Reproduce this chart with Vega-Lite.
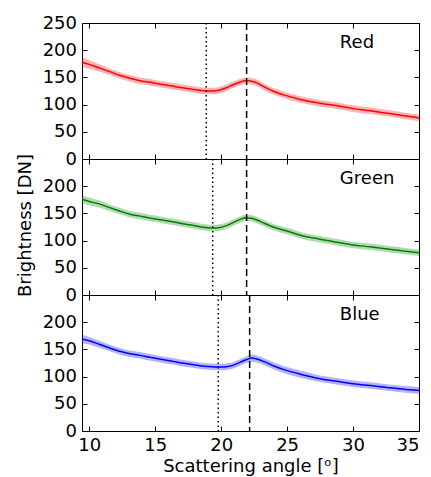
{
  "$schema": "https://vega.github.io/schema/vega-lite/v6.json",
  "autosize": {"type": "pad"},
  "padding": {"left": 15, "top": 13, "right": 10, "bottom": 3},
  "background": "white",
  "spacing": 0,
  "bounds": "flush",
  "config": {
    "font": "DejaVu Sans",
    "view": {"stroke": "black", "strokeWidth": 1},
    "axis": {
      "domain": false, "grid": false, "ticks": true, "tickSize": -5, "tickColor": "black", "tickWidth": 1,
      "labelFont": "DejaVu Sans", "labelFontSize": 18, "labelColor": "black", "labelPadding": 10.5,
      "titleFont": "DejaVu Sans", "titleFontSize": 18, "titleFontWeight": "normal", "titleColor": "black"
    }
  },
  "datasets": {
    "curves": [
      {"ch": "Red", "x": 9.45, "y": 178, "lo": 169, "hi": 187},
      {"ch": "Red", "x": 10, "y": 174, "lo": 166, "hi": 182},
      {"ch": "Red", "x": 10.8, "y": 167, "lo": 160.5, "hi": 173.5},
      {"ch": "Red", "x": 11.5, "y": 161, "lo": 155, "hi": 167},
      {"ch": "Red", "x": 12.3, "y": 154, "lo": 148, "hi": 160},
      {"ch": "Red", "x": 13, "y": 149, "lo": 143, "hi": 155},
      {"ch": "Red", "x": 13.85, "y": 144, "lo": 138, "hi": 150},
      {"ch": "Red", "x": 14.6, "y": 141, "lo": 135, "hi": 147},
      {"ch": "Red", "x": 15.4, "y": 137.5, "lo": 131.5, "hi": 143.5},
      {"ch": "Red", "x": 16.2, "y": 134.5, "lo": 128.5, "hi": 140.5},
      {"ch": "Red", "x": 16.9, "y": 131.5, "lo": 125.5, "hi": 137.5},
      {"ch": "Red", "x": 17.7, "y": 128.5, "lo": 122.5, "hi": 134.5},
      {"ch": "Red", "x": 18.4, "y": 126, "lo": 120, "hi": 132},
      {"ch": "Red", "x": 18.9, "y": 125, "lo": 119, "hi": 131},
      {"ch": "Red", "x": 19.4, "y": 125, "lo": 119, "hi": 131},
      {"ch": "Red", "x": 19.9, "y": 127, "lo": 121, "hi": 133},
      {"ch": "Red", "x": 20.4, "y": 131, "lo": 125, "hi": 137},
      {"ch": "Red", "x": 20.9, "y": 136.5, "lo": 130.5, "hi": 142.5},
      {"ch": "Red", "x": 21.4, "y": 141, "lo": 135, "hi": 147},
      {"ch": "Red", "x": 21.9, "y": 144.5, "lo": 138.5, "hi": 150.5},
      {"ch": "Red", "x": 22.3, "y": 143, "lo": 137, "hi": 149},
      {"ch": "Red", "x": 22.7, "y": 140, "lo": 134, "hi": 146},
      {"ch": "Red", "x": 23.3, "y": 132, "lo": 126, "hi": 138},
      {"ch": "Red", "x": 24, "y": 124, "lo": 118, "hi": 130},
      {"ch": "Red", "x": 25, "y": 116, "lo": 110, "hi": 122},
      {"ch": "Red", "x": 26, "y": 109.5, "lo": 103.5, "hi": 115.5},
      {"ch": "Red", "x": 27.5, "y": 102.5, "lo": 96.5, "hi": 108.5},
      {"ch": "Red", "x": 29, "y": 97, "lo": 91, "hi": 103},
      {"ch": "Red", "x": 30, "y": 92.6, "lo": 86.6, "hi": 98.6},
      {"ch": "Red", "x": 31.3, "y": 88.5, "lo": 82.5, "hi": 94.5},
      {"ch": "Red", "x": 32.6, "y": 84, "lo": 78, "hi": 90},
      {"ch": "Red", "x": 34, "y": 79, "lo": 73, "hi": 85},
      {"ch": "Red", "x": 35, "y": 75.5, "lo": 69.5, "hi": 81.5},

      {"ch": "Green", "x": 9.45, "y": 176, "lo": 168, "hi": 184},
      {"ch": "Green", "x": 10, "y": 172, "lo": 165, "hi": 179},
      {"ch": "Green", "x": 10.8, "y": 167, "lo": 160.5, "hi": 173.5},
      {"ch": "Green", "x": 11.5, "y": 161, "lo": 155, "hi": 167},
      {"ch": "Green", "x": 12.3, "y": 154.5, "lo": 148.5, "hi": 160.5},
      {"ch": "Green", "x": 13, "y": 149, "lo": 143, "hi": 155},
      {"ch": "Green", "x": 13.85, "y": 145, "lo": 139, "hi": 151},
      {"ch": "Green", "x": 14.6, "y": 141.5, "lo": 135.5, "hi": 147.5},
      {"ch": "Green", "x": 15.4, "y": 138.5, "lo": 132.5, "hi": 144.5},
      {"ch": "Green", "x": 16.2, "y": 135, "lo": 129, "hi": 141},
      {"ch": "Green", "x": 16.9, "y": 132, "lo": 126, "hi": 138},
      {"ch": "Green", "x": 17.7, "y": 128.5, "lo": 122.5, "hi": 134.5},
      {"ch": "Green", "x": 18.4, "y": 125.5, "lo": 119.5, "hi": 131.5},
      {"ch": "Green", "x": 19, "y": 123.5, "lo": 117.5, "hi": 129.5},
      {"ch": "Green", "x": 19.4, "y": 123, "lo": 117, "hi": 129},
      {"ch": "Green", "x": 19.9, "y": 124, "lo": 118, "hi": 130},
      {"ch": "Green", "x": 20.4, "y": 127.5, "lo": 121.5, "hi": 133.5},
      {"ch": "Green", "x": 20.9, "y": 133, "lo": 127, "hi": 139},
      {"ch": "Green", "x": 21.4, "y": 138.5, "lo": 132.5, "hi": 144.5},
      {"ch": "Green", "x": 21.9, "y": 142, "lo": 136, "hi": 148},
      {"ch": "Green", "x": 22.3, "y": 141, "lo": 135, "hi": 147},
      {"ch": "Green", "x": 22.7, "y": 138, "lo": 132, "hi": 144},
      {"ch": "Green", "x": 23.3, "y": 131.5, "lo": 125.5, "hi": 137.5},
      {"ch": "Green", "x": 24, "y": 124.5, "lo": 118.5, "hi": 130.5},
      {"ch": "Green", "x": 25, "y": 117.5, "lo": 111.5, "hi": 123.5},
      {"ch": "Green", "x": 26, "y": 110, "lo": 104, "hi": 116},
      {"ch": "Green", "x": 27.5, "y": 102.5, "lo": 96.5, "hi": 108.5},
      {"ch": "Green", "x": 29, "y": 96, "lo": 90, "hi": 102},
      {"ch": "Green", "x": 30, "y": 92, "lo": 86, "hi": 98},
      {"ch": "Green", "x": 31.3, "y": 88.5, "lo": 82.5, "hi": 94.5},
      {"ch": "Green", "x": 32.6, "y": 84.5, "lo": 78.5, "hi": 90.5},
      {"ch": "Green", "x": 34, "y": 80.5, "lo": 74.5, "hi": 86.5},
      {"ch": "Green", "x": 35, "y": 77.5, "lo": 71.5, "hi": 83.5},

      {"ch": "Blue", "x": 9.45, "y": 169, "lo": 161, "hi": 177},
      {"ch": "Blue", "x": 10, "y": 166, "lo": 159, "hi": 173},
      {"ch": "Blue", "x": 10.8, "y": 159, "lo": 152.5, "hi": 165.5},
      {"ch": "Blue", "x": 11.5, "y": 153, "lo": 147, "hi": 159},
      {"ch": "Blue", "x": 12.3, "y": 146.5, "lo": 140.5, "hi": 152.5},
      {"ch": "Blue", "x": 13, "y": 142.5, "lo": 136.5, "hi": 148.5},
      {"ch": "Blue", "x": 13.85, "y": 139, "lo": 133, "hi": 145},
      {"ch": "Blue", "x": 14.6, "y": 135.5, "lo": 129.5, "hi": 141.5},
      {"ch": "Blue", "x": 15.4, "y": 132, "lo": 126, "hi": 138},
      {"ch": "Blue", "x": 16.2, "y": 128.5, "lo": 122.5, "hi": 134.5},
      {"ch": "Blue", "x": 16.9, "y": 125.5, "lo": 119.5, "hi": 131.5},
      {"ch": "Blue", "x": 17.7, "y": 122.5, "lo": 116.5, "hi": 128.5},
      {"ch": "Blue", "x": 18.4, "y": 120, "lo": 114, "hi": 126},
      {"ch": "Blue", "x": 19, "y": 118.5, "lo": 112.5, "hi": 124.5},
      {"ch": "Blue", "x": 19.5, "y": 117.7, "lo": 111.7, "hi": 123.7},
      {"ch": "Blue", "x": 20, "y": 117.5, "lo": 111.5, "hi": 123.5},
      {"ch": "Blue", "x": 20.5, "y": 118.5, "lo": 112.5, "hi": 124.5},
      {"ch": "Blue", "x": 21, "y": 121.5, "lo": 115.5, "hi": 127.5},
      {"ch": "Blue", "x": 21.5, "y": 127, "lo": 121, "hi": 133},
      {"ch": "Blue", "x": 22, "y": 132, "lo": 126, "hi": 138},
      {"ch": "Blue", "x": 22.3, "y": 134, "lo": 127.5, "hi": 140.5},
      {"ch": "Blue", "x": 22.7, "y": 132.5, "lo": 126, "hi": 139},
      {"ch": "Blue", "x": 23.3, "y": 127, "lo": 120.5, "hi": 133.5},
      {"ch": "Blue", "x": 24, "y": 119.5, "lo": 113, "hi": 126},
      {"ch": "Blue", "x": 25, "y": 111, "lo": 104.5, "hi": 117.5},
      {"ch": "Blue", "x": 26, "y": 104.5, "lo": 98, "hi": 111},
      {"ch": "Blue", "x": 27.5, "y": 96, "lo": 90, "hi": 102},
      {"ch": "Blue", "x": 29, "y": 90.5, "lo": 84.5, "hi": 96.5},
      {"ch": "Blue", "x": 30, "y": 86.8, "lo": 80.8, "hi": 92.8},
      {"ch": "Blue", "x": 31.3, "y": 83.5, "lo": 77.5, "hi": 89.5},
      {"ch": "Blue", "x": 32.6, "y": 80, "lo": 74, "hi": 86},
      {"ch": "Blue", "x": 34, "y": 76.5, "lo": 70.5, "hi": 82.5},
      {"ch": "Blue", "x": 35, "y": 74.5, "lo": 68.5, "hi": 80.5}
    ],
    "vlines": [
      {"ch": "Red", "x": 18.87, "kind": "dotted"},
      {"ch": "Red", "x": 21.93, "kind": "dashed"},
      {"ch": "Green", "x": 19.36, "kind": "dotted"},
      {"ch": "Green", "x": 21.93, "kind": "dashed"},
      {"ch": "Blue", "x": 19.78, "kind": "dotted"},
      {"ch": "Blue", "x": 22.16, "kind": "dashed"}
    ],
    "labels": [
      {"ch": "Red", "x": 29, "y": 213, "label": "Red"},
      {"ch": "Green", "x": 29, "y": 213, "label": "Green"},
      {"ch": "Blue", "x": 29, "y": 213, "label": "Blue"}
    ]
  },
  "vconcat": [
    {
      "width": 337, "height": 136,
      "resolve": {"axis": {"x": "independent", "y": "independent"}},
      "layer": [
        {
          "data": {"name": "curves"},
          "transform": [{"filter": "datum.ch === 'Red'"}],
          "mark": {"type": "area", "color": "#ff0000", "opacity": 0.3, "interpolate": "monotone"},
          "encoding": {
            "x": {"field": "x", "type": "quantitative", "scale": {"domain": [9.45, 35], "nice": false, "zero": false}, "axis": {"orient": "top", "labels": false, "title": null, "values": [10, 15, 20, 25, 30, 35]}},
            "y": {"field": "lo", "type": "quantitative", "scale": {"domain": [0, 250], "nice": false}, "axis": {"orient": "right", "labels": false, "title": null, "values": [0, 50, 100, 150, 200, 250]}},
            "y2": {"field": "hi"}
          }
        },
        {
          "data": {"name": "curves"},
          "transform": [{"filter": "datum.ch === 'Red'"}],
          "mark": {"type": "line", "color": "#ff0000", "strokeWidth": 1.5, "interpolate": "monotone"},
          "encoding": {
            "x": {"field": "x", "type": "quantitative", "scale": {"domain": [9.45, 35], "nice": false, "zero": false}, "axis": {"orient": "bottom", "labels": false, "title": null, "values": [10, 15, 20, 25, 30, 35]}},
            "y": {"field": "y", "type": "quantitative", "scale": {"domain": [0, 250], "nice": false}, "axis": {"orient": "left", "title": null, "values": [0, 50, 100, 150, 200, 250]}}
          }
        },
        {
          "data": {"name": "vlines"},
          "transform": [{"filter": "datum.ch === 'Red' && datum.kind === 'dotted'"}],
          "mark": {"type": "rule", "color": "black", "strokeWidth": 1.5, "strokeDash": [1.5, 3]},
          "encoding": {"x": {"field": "x", "type": "quantitative", "axis": null}}
        },
        {
          "data": {"name": "vlines"},
          "transform": [{"filter": "datum.ch === 'Red' && datum.kind === 'dashed'"}],
          "mark": {"type": "rule", "color": "black", "strokeWidth": 1.5, "strokeDash": [7, 4]},
          "encoding": {"x": {"field": "x", "type": "quantitative", "axis": null}}
        },
        {
          "data": {"name": "labels"},
          "transform": [{"filter": "datum.ch === 'Red'"}],
          "mark": {"type": "text", "align": "left", "baseline": "middle", "fontSize": 18, "color": "black"},
          "encoding": {
            "x": {"field": "x", "type": "quantitative", "axis": null},
            "y": {"field": "y", "type": "quantitative", "axis": null},
            "text": {"field": "label"}
          }
        }
      ]
    },
    {
      "width": 337, "height": 136,
      "resolve": {"axis": {"x": "independent", "y": "independent"}},
      "layer": [
        {
          "data": {"name": "curves"},
          "transform": [{"filter": "datum.ch === 'Green'"}],
          "mark": {"type": "area", "color": "#008000", "opacity": 0.3, "interpolate": "monotone"},
          "encoding": {
            "x": {"field": "x", "type": "quantitative", "scale": {"domain": [9.45, 35], "nice": false, "zero": false}, "axis": {"orient": "top", "labels": false, "title": null, "values": [10, 15, 20, 25, 30, 35]}},
            "y": {"field": "lo", "type": "quantitative", "scale": {"domain": [0, 250], "nice": false}, "axis": {"orient": "right", "labels": false, "title": null, "values": [0, 50, 100, 150, 200, 250]}},
            "y2": {"field": "hi"}
          }
        },
        {
          "data": {"name": "curves"},
          "transform": [{"filter": "datum.ch === 'Green'"}],
          "mark": {"type": "line", "color": "#008000", "strokeWidth": 1.5, "interpolate": "monotone"},
          "encoding": {
            "x": {"field": "x", "type": "quantitative", "scale": {"domain": [9.45, 35], "nice": false, "zero": false}, "axis": {"orient": "bottom", "labels": false, "title": null, "values": [10, 15, 20, 25, 30, 35]}},
            "y": {"field": "y", "type": "quantitative", "scale": {"domain": [0, 250], "nice": false}, "axis": {"orient": "left", "values": [0, 50, 100, 150, 200, 250], "labelExpr": "datum.value == 250 ? '' : datum.label", "title": "Brightness [DN]", "titleX": -57, "titleY": 66, "titleAngle": -90, "titleAlign": "center", "titleBaseline": "middle"}}
          }
        },
        {
          "data": {"name": "vlines"},
          "transform": [{"filter": "datum.ch === 'Green' && datum.kind === 'dotted'"}],
          "mark": {"type": "rule", "color": "black", "strokeWidth": 1.5, "strokeDash": [1.5, 3]},
          "encoding": {"x": {"field": "x", "type": "quantitative", "axis": null}}
        },
        {
          "data": {"name": "vlines"},
          "transform": [{"filter": "datum.ch === 'Green' && datum.kind === 'dashed'"}],
          "mark": {"type": "rule", "color": "black", "strokeWidth": 1.5, "strokeDash": [7, 4]},
          "encoding": {"x": {"field": "x", "type": "quantitative", "axis": null}}
        },
        {
          "data": {"name": "labels"},
          "transform": [{"filter": "datum.ch === 'Green'"}],
          "mark": {"type": "text", "align": "left", "baseline": "middle", "fontSize": 18, "color": "black"},
          "encoding": {
            "x": {"field": "x", "type": "quantitative", "axis": null},
            "y": {"field": "y", "type": "quantitative", "axis": null},
            "text": {"field": "label"}
          }
        }
      ]
    },
    {
      "width": 337, "height": 136,
      "resolve": {"axis": {"x": "independent", "y": "independent"}},
      "layer": [
        {
          "data": {"name": "curves"},
          "transform": [{"filter": "datum.ch === 'Blue'"}],
          "mark": {"type": "area", "color": "#0000ff", "opacity": 0.3, "interpolate": "monotone"},
          "encoding": {
            "x": {"field": "x", "type": "quantitative", "scale": {"domain": [9.45, 35], "nice": false, "zero": false}, "axis": {"orient": "top", "labels": false, "title": null, "values": [10, 15, 20, 25, 30, 35]}},
            "y": {"field": "lo", "type": "quantitative", "scale": {"domain": [0, 250], "nice": false}, "axis": {"orient": "right", "labels": false, "title": null, "values": [0, 50, 100, 150, 200, 250]}},
            "y2": {"field": "hi"}
          }
        },
        {
          "data": {"name": "curves"},
          "transform": [{"filter": "datum.ch === 'Blue'"}],
          "mark": {"type": "line", "color": "#0000ff", "strokeWidth": 1.5, "interpolate": "monotone"},
          "encoding": {
            "x": {"field": "x", "type": "quantitative", "scale": {"domain": [9.45, 35], "nice": false, "zero": false}, "axis": {"orient": "bottom", "values": [10, 15, 20, 25, 30, 35], "labelPadding": 10, "title": "Scattering angle [ᵒ]", "titleX": 168.5, "titleY": 40, "titleAlign": "center", "titleBaseline": "alphabetic"}},
            "y": {"field": "y", "type": "quantitative", "scale": {"domain": [0, 250], "nice": false}, "axis": {"orient": "left", "title": null, "values": [0, 50, 100, 150, 200, 250], "labelExpr": "datum.value == 250 ? '' : datum.label"}}
          }
        },
        {
          "data": {"name": "vlines"},
          "transform": [{"filter": "datum.ch === 'Blue' && datum.kind === 'dotted'"}],
          "mark": {"type": "rule", "color": "black", "strokeWidth": 1.5, "strokeDash": [1.5, 3]},
          "encoding": {"x": {"field": "x", "type": "quantitative", "axis": null}}
        },
        {
          "data": {"name": "vlines"},
          "transform": [{"filter": "datum.ch === 'Blue' && datum.kind === 'dashed'"}],
          "mark": {"type": "rule", "color": "black", "strokeWidth": 1.5, "strokeDash": [7, 4]},
          "encoding": {"x": {"field": "x", "type": "quantitative", "axis": null}}
        },
        {
          "data": {"name": "labels"},
          "transform": [{"filter": "datum.ch === 'Blue'"}],
          "mark": {"type": "text", "align": "left", "baseline": "middle", "fontSize": 18, "color": "black"},
          "encoding": {
            "x": {"field": "x", "type": "quantitative", "axis": null},
            "y": {"field": "y", "type": "quantitative", "axis": null},
            "text": {"field": "label"}
          }
        }
      ]
    }
  ]
}
